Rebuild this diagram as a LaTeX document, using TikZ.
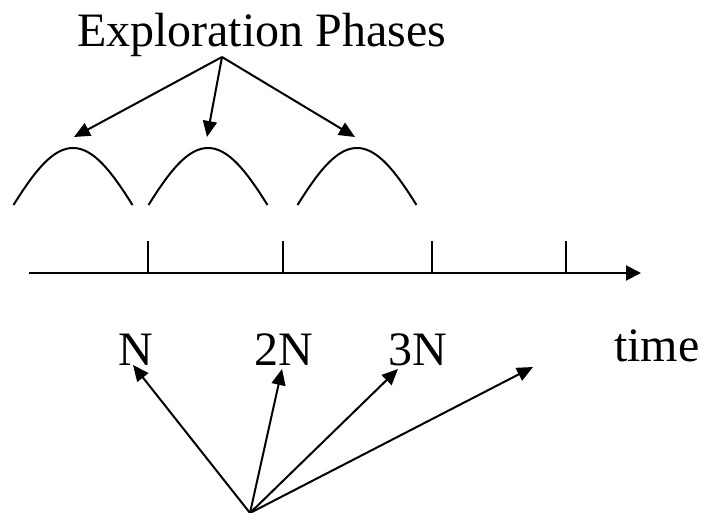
\documentclass[tikz,border=0pt]{standalone}
\usepackage{fontspec}
\setmainfont{Liberation Serif}
\usetikzlibrary{arrows.meta}
\begin{document}
\begin{tikzpicture}[x=1pt,y=-1pt,line width=2pt,
  arr/.style={-{Triangle[length=16pt,width=14pt]}},
  lbl/.style={inner sep=0pt,font=\fontsize{48}{48}\selectfont}]
\useasboundingbox (0,0) rectangle (702,513);
% title and arrows to exploration phases
\node[lbl,anchor=base west] (title) at (76,47) {Exploration Phases};
\coordinate (src) at (222,57);
\coordinate (p1) at (74,137);
\coordinate (p2) at (207,137);
\coordinate (p3) at (355,137);
\draw[arr] (src) -- (p1);
\draw[arr] (src) -- (p2);
\draw[arr] (src) -- (p3);
% exploration humps
\foreach \c in {73,208,357}
  \draw plot[domain=-1.4:1.4,samples=60,smooth]
    ({\c+59.5*\x/1.4},{148+57*(1-cos(\x r))/(1-cos(1.4 r))});
% time axis
\coordinate (a0) at (29,273);
\coordinate (a1) at (641,273);
\draw[-{Triangle[length=15pt,width=15pt]}] (a0) -- (a1);
\foreach \t in {148,283,432,566}
  \draw (\t,241) -- (\t,273);
% labels
\node[lbl,anchor=base west] (n1) at (117,365) {N};
\node[lbl,anchor=base west] (n2) at (253,365) {2N};
\node[lbl,anchor=base west] (n3) at (387,365) {3N};
\node[lbl,anchor=base west] (time) at (613,361) {time};
% fan of arrows
\coordinate (o) at (250,513);
\coordinate (q1) at (133,365);
\coordinate (q2) at (282,369);
\coordinate (q3) at (398,369);
\coordinate (q4) at (533,367);
\draw[arr] (o) -- (q1);
\draw[arr] (o) -- (q2);
\draw[arr] (o) -- (q3);
\draw[arr] (o) -- (q4);
\end{tikzpicture}
\end{document}
